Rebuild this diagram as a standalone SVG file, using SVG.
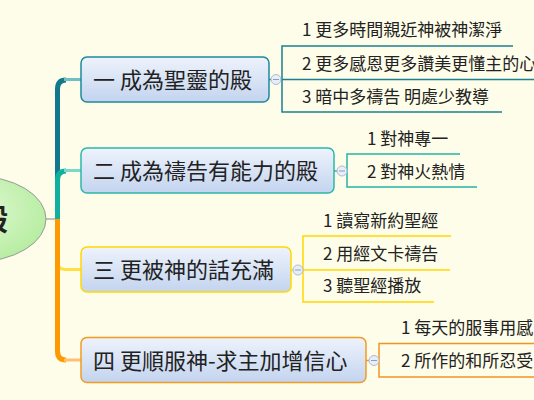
<svg xmlns="http://www.w3.org/2000/svg" width="534" height="400" viewBox="0 0 534 400">
<defs>
<linearGradient id="ng" x1="0" y1="0" x2="0" y2="1">
<stop offset="0" stop-color="#EEF3FC"/>
<stop offset="1" stop-color="#C3D4EF"/>
</linearGradient>
<radialGradient id="rg" cx="0.4" cy="0.4" r="0.7">
<stop offset="0" stop-color="#E8FADC"/>
<stop offset="1" stop-color="#B2EC9C"/>
</radialGradient>
<style>
.t{font-family:"Noto Sans CJK TC","Noto Sans CJK SC",sans-serif;fill:#222}
.n{font-size:22px}
.s{font-size:17px}
.c{fill:#E8EEF8;stroke:#AEBBD6;stroke-width:1}
.m{stroke:#8C9CC0;stroke-width:1}
</style>
</defs>
<rect width="534" height="400" fill="#FDFDE9"/>
<g id="root">
<ellipse cx="-25" cy="219" rx="71" ry="43" fill="url(#rg)" stroke="#999" stroke-width="1"/>
<text class="t" x="8" y="230" font-size="30" font-weight="bold" text-anchor="end">殿</text>
</g>
<g id="connectors" fill="none">
<line x1="46" y1="219" x2="57" y2="219" stroke="#888" stroke-width="1"/>
<path d="M57.5,219 V89 Q57.5,80 66,80" stroke="#12798C" stroke-width="5"/>
<line x1="64" y1="79.5" x2="81" y2="79.5" stroke="#6FC0C6" stroke-width="3"/>
<path d="M57.5,219 V180 Q57.5,171 66,171" stroke="#10B09E" stroke-width="5"/>
<line x1="64" y1="170.5" x2="81" y2="170.5" stroke="#7DD8CC" stroke-width="3"/>
<path d="M57.5,219 V262 Q57.5,269 65,269.5 H81" stroke="#FFE040" stroke-width="3"/>
<path d="M57.5,219 V351 Q57.5,360 66,360" stroke="#FF9900" stroke-width="5"/>
<line x1="64" y1="360" x2="81" y2="360" stroke="#FFC070" stroke-width="3"/>
<g stroke="#1B8090" stroke-width="1.5">
<line x1="269" y1="79.5" x2="282" y2="79.5"/>
<path d="M513,46 H282 V112 H502"/>
<line x1="282" y1="79.5" x2="534" y2="79.5"/>
</g>
<g stroke="#25B4A4" stroke-width="1.5">
<line x1="334" y1="171" x2="347" y2="171"/>
<path d="M460,154 H347 V187 H477"/>
</g>
<g stroke="#FFD800" stroke-width="1.5">
<line x1="291" y1="270" x2="303" y2="270"/>
<path d="M451,236 H303 V302 H434"/>
<line x1="303" y1="270" x2="450" y2="270"/>
</g>
<g stroke="#F39424" stroke-width="1.5">
<line x1="366" y1="360.5" x2="379" y2="360.5"/>
<path d="M534,343.5 H379 V377 H534"/>
</g>
</g>
<g id="node1">
<rect x="81" y="57" width="188" height="45" rx="6" fill="url(#ng)" stroke="#1B8A9A" stroke-width="1.5"/>
<text class="t n" x="93" y="88">一 成為聖靈的殿</text>
<circle class="c" cx="276" cy="79.5" r="5"/><line class="m" x1="273" y1="79.5" x2="279" y2="79.5"/>
</g>
<g id="node2">
<rect x="81" y="148" width="253" height="45" rx="6" fill="url(#ng)" stroke="#2BB8A8" stroke-width="1.5"/>
<text class="t n" x="93" y="179">二 成為禱告有能力的殿</text>
<circle class="c" cx="342" cy="171" r="5"/><line class="m" x1="339" y1="171" x2="345" y2="171"/>
</g>
<g id="node3">
<rect x="81" y="247" width="210" height="45" rx="6" fill="url(#ng)" stroke="#FFD800" stroke-width="1.5"/>
<text class="t n" x="93" y="278">三 更被神的話充滿</text>
<circle class="c" cx="298" cy="270" r="5"/><line class="m" x1="295" y1="270" x2="301" y2="270"/>
</g>
<g id="node4">
<rect x="81" y="337.5" width="285" height="45" rx="6" fill="url(#ng)" stroke="#F39A23" stroke-width="1.5"/>
<text class="t n" x="93" y="369">四 更順服神-求主加增信心</text>
<circle class="c" cx="374" cy="360.5" r="5"/><line class="m" x1="371" y1="360.5" x2="377" y2="360.5"/>
</g>
<g id="n1c1"><text class="t s" x="302" y="36">1 更多時間親近神被神潔淨</text></g>
<g id="n1c2"><text class="t s" x="302" y="70">2 更多感恩更多讚美更懂主的心</text></g>
<g id="n1c3"><text class="t s" x="302" y="103">3 暗中多禱告 明處少教導</text></g>
<g id="n2c1"><text class="t s" x="367" y="145">1 對神專一</text></g>
<g id="n2c2"><text class="t s" x="367" y="178">2 對神火熱情</text></g>
<g id="n3c1"><text class="t s" x="323" y="227">1 讀寫新約聖經</text></g>
<g id="n3c2"><text class="t s" x="323" y="260">2 用經文卡禱告</text></g>
<g id="n3c3"><text class="t s" x="323" y="292">3 聽聖經播放</text></g>
<g id="n4c1"><text class="t s" x="401" y="334">1 每天的服事用感</text></g>
<g id="n4c2"><text class="t s" x="401" y="367">2 所作的和所忍受的</text></g>
</svg>
